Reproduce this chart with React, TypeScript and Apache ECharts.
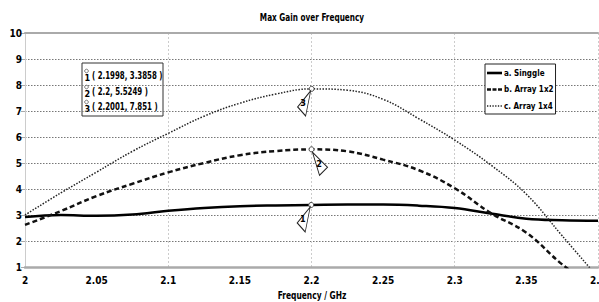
import React, { useEffect, useRef } from "react";
import * as echarts from "echarts";

const freqs = [2.0, 2.025, 2.05, 2.075, 2.1, 2.125, 2.15, 2.175, 2.2, 2.225, 2.25, 2.275, 2.3, 2.325, 2.35, 2.375, 2.4];
const singgle = [2.92, 3.0, 2.97, 3.02, 3.16, 3.27, 3.34, 3.37, 3.386, 3.4, 3.4, 3.36, 3.27, 3.06, 2.86, 2.8, 2.78];
const array1x2 = [2.62, 3.15, 3.73, 4.2, 4.64, 5.0, 5.3, 5.46, 5.525, 5.45, 5.13, 4.72, 4.03, 3.08, 2.32, 1.1, 0.1];
const array1x4 = [3.0, 3.85, 4.65, 5.45, 6.14, 6.8, 7.3, 7.65, 7.851, 7.8, 7.45, 6.7, 5.88, 4.93, 3.8, 2.2, 0.6];
const seriesNames = ["a. Singgle", "b. Array 1x2", "c. Array 1x4"];
const markerX = [2.1998, 2.2, 2.2001];
const markerY = [3.3858, 5.5249, 7.851];
const markerIds = ["1", "2", "3"];
const xTicks = { min: 2, max: 2.4, interval: 0.05 };
const yTicks = { min: 1, max: 10, interval: 1 };
const titleText = "Max Gain over Frequency";
const xAxisTitle = "Frequency / GHz";

const FONT = "'DejaVu Sans Condensed', 'Liberation Sans', sans-serif";

const legendIcons = [
  "path://M0,0h15v2.6h-15z",
  "path://M0,0h4v2.6h-4zM5.5,0h4v2.6h-4zM11,0h4v2.6h-4z",
  "path://M0,0.5h1.3v1.6h-1.3zM2.7,0.5h1.3v1.6h-1.3zM5.4,0.5h1.3v1.6h-1.3zM8.1,0.5h1.3v1.6h-1.3zM10.8,0.5h1.3v1.6h-1.3zM13.5,0.5h1.3v1.6h-1.3zM0,0h0.01v0.01h-0.01zM14.9,2.5h0.01v0.01h-0.01z",
];

export default function App() {
  const ref = useRef<HTMLDivElement>(null);
  useEffect(() => {
    if (!ref.current) return;
    const chart = echarts.init(ref.current, undefined, { renderer: "svg" });
    const mk = (i: number, mirror: boolean) => [
      {
        coord: [markerX[i], markerY[i]],
        symbol: "circle",
        symbolSize: 5,
        itemStyle: { color: "#fff", borderColor: "#444", borderWidth: 1 },
        label: { show: false },
      },
      {
        coord: [markerX[i], markerY[i]],
        symbol: mirror ? "path://M0,0L15,15L7,23Z" : "path://M13,0L0,16L8,25Z",
        symbolSize: mirror ? [15, 23] : [13, 25],
        symbolKeepAspect: false,
        symbolOffset: mirror ? [8.5, 14.5] : [-7.5, 14.5],
        itemStyle: { color: "#fff", borderColor: "#222", borderWidth: 1 },
        label: {
          show: true,
          formatter: markerIds[i],
          position: "inside",
          offset: [-1, 0],
          color: "#000",
          fontSize: 9,
          fontWeight: "bold",
          fontFamily: FONT,
        },
      },
    ];
    const dataSets = [singgle, array1x2, array1x4];
    const styles = [
      { width: 2.5, type: "solid" as const, color: "#000" },
      { width: 2.5, type: [5, 3] as any, color: "#111" },
      { width: 1.5, type: [1.5, 1.5] as any, color: "#222" },
    ];
    const series = dataSets.map((d, i) => ({
      name: seriesNames[i],
      type: "line",
      data: freqs.map((f, j) => [f, d[j]]),
      smooth: 0.4,
      showSymbol: false,
      symbol: "none",
      lineStyle: styles[i],
      itemStyle: { color: styles[i].color },
      xAxisIndex: 0,
      markPoint: { data: mk(i, i === 1), animation: false },
      z: 3,
    }));
    const rows = [75, 91, 106];
    const boxChildren: any[] = [
      {
        type: "rect",
        shape: { x: 82, y: 63, width: 81, height: 53 },
        style: { fill: "#fff", stroke: "#333", lineWidth: 1 },
      },
    ];
    rows.forEach((ry, i) => {
      boxChildren.push({
        type: "circle",
        shape: { cx: 86.5, cy: ry - 4, r: 1.8 },
        style: { fill: "#fff", stroke: "#777", lineWidth: 1 },
      });
      boxChildren.push({
        type: "text",
        x: 84.5,
        y: ry + 3,
        style: { text: markerIds[i], fontSize: 9, fontWeight: "bold", fontFamily: FONT, fill: "#000", verticalAlign: "middle" },
      });
      boxChildren.push({
        type: "text",
        x: 92,
        y: ry,
        scaleX: 0.71,
        style: {
          text: `( ${markerX[i]}, ${markerY[i]} )`,
          fontSize: 11,
          fontWeight: "bold",
          fontFamily: FONT,
          fill: "#000",
          verticalAlign: "middle",
        },
      });
    });
    chart.setOption({
      animation: false,
      backgroundColor: "#fff",
      grid: { left: 25, right: 1, top: 33, bottom: 35, outerBoundsMode: "none", containLabel: false },
      legend: {
        data: seriesNames.map((n, i) => ({ name: n, icon: legendIcons[i] })),
        orient: "vertical",
        left: 485,
        top: 64,
        itemWidth: 15,
        itemHeight: 2.6,
        itemGap: 8.5,
        padding: [5, 2, 4, 2],
        borderColor: "#222",
        borderWidth: 1,
        backgroundColor: "#fff",
        textStyle: { fontSize: 8, fontWeight: "bold", fontFamily: FONT, color: "#000", padding: [0, 0, 0, -3] },
      },
      xAxis: [
        {
          type: "value",
          min: xTicks.min,
          max: xTicks.max,
          interval: xTicks.interval,
          axisLine: { show: true, lineStyle: { color: "#aaa", width: 2.5 } },
          axisTick: { show: false },
          splitLine: { show: false },
          axisLabel: {
            fontSize: 10,
            fontWeight: "bold",
            fontFamily: FONT,
            color: "#000",
            margin: 8,
            formatter: (v: number) => String(Math.round(v * 100) / 100),
          },
        },
        {
          type: "value",
          position: "top",
          min: 2,
          max: 2.4,
          interval: 0.1,
          axisLine: { show: true, lineStyle: { color: "#aaa", width: 2 } },
          axisTick: { show: false },
          axisLabel: { show: false },
          splitLine: { show: true, lineStyle: { color: "#ccc", type: [2, 2], width: 1 } },
        },
      ],
      yAxis: {
        type: "value",
        min: yTicks.min,
        max: yTicks.max,
        interval: yTicks.interval,
        axisLine: { show: true, lineStyle: { color: "#ccc", width: 1 } },
        axisTick: { show: true, length: 4, lineStyle: { color: "#aaa" } },
        splitLine: { show: true, lineStyle: { color: "#777", type: [1.5, 1.5], width: 1 } },
        axisLabel: { fontSize: 10, fontWeight: "bold", fontFamily: FONT, color: "#000", margin: 3 },
      },
      series,
      graphic: [
        { type: "group", z: 100, children: boxChildren },
        {
          type: "text",
          x: 312,
          y: 17,
          scaleX: 0.74,
          style: { text: titleText, fontSize: 11, fontWeight: "bold", fontFamily: FONT, fill: "#000", align: "center", verticalAlign: "middle" },
        },
        {
          type: "text",
          x: 312,
          y: 295,
          scaleX: 0.76,
          style: { text: xAxisTitle, fontSize: 11, fontWeight: "bold", fontFamily: FONT, fill: "#000", align: "center", verticalAlign: "middle" },
        },
      ],
    });
    return () => chart.dispose();
  }, []);
  return <div ref={ref} style={{ position: "fixed", left: 0, top: 0, width: 599, height: 302 }} />;
}
